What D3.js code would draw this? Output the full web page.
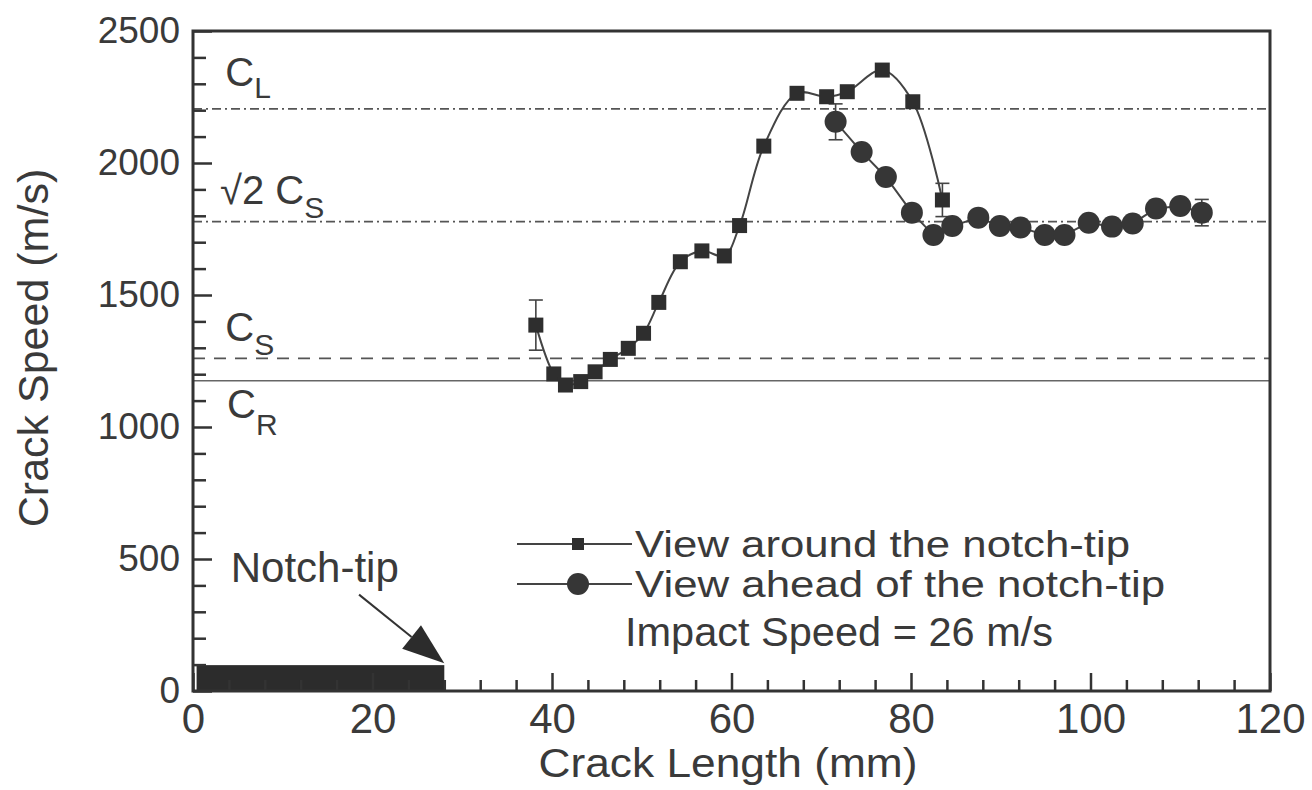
<!doctype html>
<html>
<head>
<meta charset="utf-8">
<script src="https://cdn.jsdelivr.net/npm/d3@7"></script>
<style>
    html, body { margin: 0; padding: 0; background: #fff; }
    svg { display: block; }
    text { font-family: "Liberation Sans", Arial, sans-serif; fill: #3a3a3a; }
    .axis path.domain { display: none; }
    .axis line { stroke: #333; stroke-width: 2.5; }
</style>
</head>
<body>
<svg id="chart" width="1312" height="790"></svg>
<script>
    // crack length (mm) / crack speed (m/s), view around the notch-tip
    var sqX = [38.2, 40.2, 41.5, 43.2, 44.8, 46.5, 48.5, 50.2, 51.9, 54.3, 56.7, 59.2, 60.9, 63.6, 67.3, 70.6, 72.9, 76.8, 80.2, 83.5];
    var sqY = [1386, 1201, 1159, 1172, 1209, 1256, 1298, 1355, 1472, 1626, 1667, 1648, 1763, 2064, 2264, 2251, 2270, 2352, 2232, 1860];
    var sqErr = [95, 0, 0, 0, 0, 0, 0, 0, 0, 0, 0, 0, 0, 0, 0, 0, 0, 0, 0, 63];

    // view ahead of the notch-tip
    var ciX = [71.6, 74.5, 77.2, 80.1, 82.5, 84.6, 87.5, 89.9, 92.2, 94.9, 97.1, 99.8, 102.4, 104.7, 107.3, 110.0, 112.4];
    var ciY = [2156, 2042, 1947, 1812, 1727, 1761, 1793, 1761, 1756, 1727, 1727, 1774, 1759, 1771, 1828, 1837, 1812];
    var ciErr = [68, 0, 0, 0, 0, 0, 0, 0, 0, 0, 0, 0, 0, 0, 0, 0, 50];

    // wave speeds
    var waveNames = ["CL", "sqrt2CS", "CS", "CR"];
    var waveSpeeds = [2205, 1778, 1260, 1175];

    var xMajor = [0, 20, 40, 60, 80, 100, 120];
    var yMajor = [0, 500, 1000, 1500, 2000, 2500];
    var notchLength = 28;

    var svg = d3.select("#chart");
    var margin = {left: 193, right: 42, top: 31, bottom: 99};
    var W = 1312 - margin.left - margin.right,
        H = 790 - margin.top - margin.bottom;

    var x = d3.scaleLinear().domain([0, 120]).range([0, W]);
    var y = d3.scaleLinear().domain([0, 2500]).range([H, 0]);

    var g = svg.append("g").attr("transform", "translate(" + margin.left + "," + margin.top + ")");

    // reference lines for wave speeds
    var dashes = {CL: "9,4,2,4", sqrt2CS: "9,4,2,4", CS: "12,9", CR: null};
    waveNames.forEach(function(n, i){
        g.append("line")
            .attr("x1", 0).attr("x2", W)
            .attr("y1", y(waveSpeeds[i])).attr("y2", y(waveSpeeds[i]))
            .attr("stroke", n === "CR" ? "#666" : "#555")
            .attr("stroke-width", n === "CR" ? 1.6 : 1.8)
            .attr("stroke-dasharray", dashes[n]);
    });

    // wave speed labels
    function cLabel(xv, yv, pre, sub, dy){
        var t = g.append("text").attr("x", x(xv)).attr("y", y(yv)).style("font-size", "40px");
        t.append("tspan").text(pre);
        t.append("tspan").text(sub).style("font-size", "30px").attr("dy", dy);
    }
    cLabel(3.6, 2290, "C", "L", 12);
    cLabel(3.0, 1845, "\u221A2 C", "S", 14);
    cLabel(3.6, 1325, "C", "S", 14);
    cLabel(3.8, 1033, "C", "R", 17);

    // notch bar
    g.append("rect")
        .attr("x", x(0.4)).attr("width", x(notchLength) - x(0.4))
        .attr("y", y(98)).attr("height", y(0) - y(98))
        .attr("fill", "#2c2c2c");

    // notch-tip arrow
    var arrowFrom = [18.5, 365], arrowTo = [notchLength, 105];
    var ax0 = x(arrowFrom[0]), ay0 = y(arrowFrom[1]), ax1 = x(arrowTo[0]), ay1 = y(arrowTo[1]);
    var ang = Math.atan2(ay1 - ay0, ax1 - ax0);
    var headL = 42, headW = 15;
    var bx = ax1 - headL * Math.cos(ang), by = ay1 - headL * Math.sin(ang);
    g.append("line").attr("x1", ax0).attr("y1", ay0).attr("x2", bx).attr("y2", by)
        .attr("stroke", "#333").attr("stroke-width", 2);
    g.append("path")
        .attr("d", "M" + ax1 + "," + ay1 +
            "L" + (bx + headW * Math.sin(ang)) + "," + (by - headW * Math.cos(ang)) +
            "L" + (bx - headW * Math.sin(ang)) + "," + (by + headW * Math.cos(ang)) + "Z")
        .attr("fill", "#2c2c2c");
    g.append("text").attr("x", x(4.2)).attr("y", y(412)).style("font-size", "42px").text("Notch-tip");

    // series
    var sq = sqX.map(function(v, i){ return {x: v, y: sqY[i], e: sqErr[i]}; });
    var ci = ciX.map(function(v, i){ return {x: v, y: ciY[i], e: ciErr[i]}; });

    var smooth = d3.line().x(function(d){ return x(d.x); }).y(function(d){ return y(d.y); })
        .curve(d3.curveCatmullRom.alpha(0.5));
    var straight = d3.line().x(function(d){ return x(d.x); }).y(function(d){ return y(d.y); });

    g.append("path").datum(sq).attr("d", smooth).attr("fill", "none").attr("stroke", "#444").attr("stroke-width", 2);
    g.append("path").datum(ci).attr("d", straight).attr("fill", "none").attr("stroke", "#444").attr("stroke-width", 2);

    function errBars(data){
        var eb = g.append("g").selectAll("g").data(data.filter(function(d){ return d.e > 0; })).join("g")
            .attr("stroke", "#444").attr("stroke-width", 1.6);
        eb.append("line").attr("x1", function(d){ return x(d.x); }).attr("x2", function(d){ return x(d.x); })
            .attr("y1", function(d){ return y(d.y + d.e); }).attr("y2", function(d){ return y(d.y - d.e); });
        [1, -1].forEach(function(s){
            eb.append("line").attr("x1", function(d){ return x(d.x) - 7; }).attr("x2", function(d){ return x(d.x) + 7; })
                .attr("y1", function(d){ return y(d.y + s * d.e); }).attr("y2", function(d){ return y(d.y + s * d.e); });
        });
    }
    errBars(sq);
    errBars(ci);

    g.append("g").selectAll("circle").data(ci).join("circle")
        .attr("cx", function(d){ return x(d.x); }).attr("cy", function(d){ return y(d.y); })
        .attr("r", 11).attr("fill", "#363636");
    g.append("g").selectAll("rect").data(sq).join("rect")
        .attr("x", function(d){ return x(d.x) - 7.5; }).attr("y", function(d){ return y(d.y) - 7.5; })
        .attr("width", 15).attr("height", 15).attr("fill", "#2e2e2e");

    // axes with inward ticks
    var xMinor = d3.range(0, 121, 4).filter(function(v){ return xMajor.indexOf(v) < 0; });
    g.append("g").attr("class", "axis").attr("transform", "translate(0," + H + ")")
        .call(d3.axisBottom(x).tickValues(xMinor).tickSize(-11).tickFormat(""));
    g.append("g").attr("class", "axis").attr("transform", "translate(0," + H + ")")
        .call(d3.axisBottom(x).tickValues(xMajor).tickSize(-18).tickPadding(12).tickFormat(d3.format("d")))
        .selectAll("text").style("font-size", "42px").attr("fill", "#3a3a3a");

    var yMinor = d3.range(0, 2501, 100).filter(function(v){ return yMajor.indexOf(v) < 0; });
    g.append("g").attr("class", "axis")
        .call(d3.axisLeft(y).tickValues(yMinor).tickSize(-13).tickFormat(""));
    g.append("g").attr("class", "axis")
        .call(d3.axisLeft(y).tickValues(yMajor).tickSize(-19).tickPadding(13).tickFormat(d3.format("d")))
        .selectAll("text").style("font-size", "37px").attr("fill", "#3a3a3a");

    // frame
    g.append("rect").attr("width", W).attr("height", H).attr("fill", "none")
        .attr("stroke", "#333").attr("stroke-width", 3);

    // axis titles
    svg.append("text").attr("x", 728).attr("y", 777).attr("text-anchor", "middle")
        .attr("textLength", 379).attr("lengthAdjust", "spacingAndGlyphs")
        .style("font-size", "41px").text("Crack Length (mm)");
    svg.append("text").attr("transform", "translate(48,348) rotate(-90)")
        .attr("text-anchor", "middle").style("font-size", "43px").text("Crack Speed (m/s)");

    // legend
    var legend = svg.append("g").attr("transform", "translate(517,544)");
    var rows = [{label: "View around the notch-tip", shape: "square", w: 495},
                {label: "View ahead of the notch-tip", shape: "circle", w: 530}];
    rows.forEach(function(r, i){
        var ly = i * 40;
        legend.append("line").attr("x1", 0).attr("x2", 115).attr("y1", ly).attr("y2", ly)
            .attr("stroke", "#444").attr("stroke-width", 2);
        if (r.shape === "square") {
            legend.append("rect").attr("x", 61 - 6).attr("y", ly - 6).attr("width", 12).attr("height", 12).attr("fill", "#2e2e2e");
        } else {
            legend.append("circle").attr("cx", 61).attr("cy", ly).attr("r", 11).attr("fill", "#363636");
        }
        legend.append("text").attr("x", 118).attr("y", ly + 13)
            .attr("textLength", r.w).attr("lengthAdjust", "spacingAndGlyphs")
            .style("font-size", "36px").text(r.label);
    });
    legend.append("text").attr("x", 108).attr("y", 102)
        .attr("textLength", 428).attr("lengthAdjust", "spacingAndGlyphs")
        .style("font-size", "40px").text("Impact Speed = 26 m/s");
</script>
</body>
</html>
